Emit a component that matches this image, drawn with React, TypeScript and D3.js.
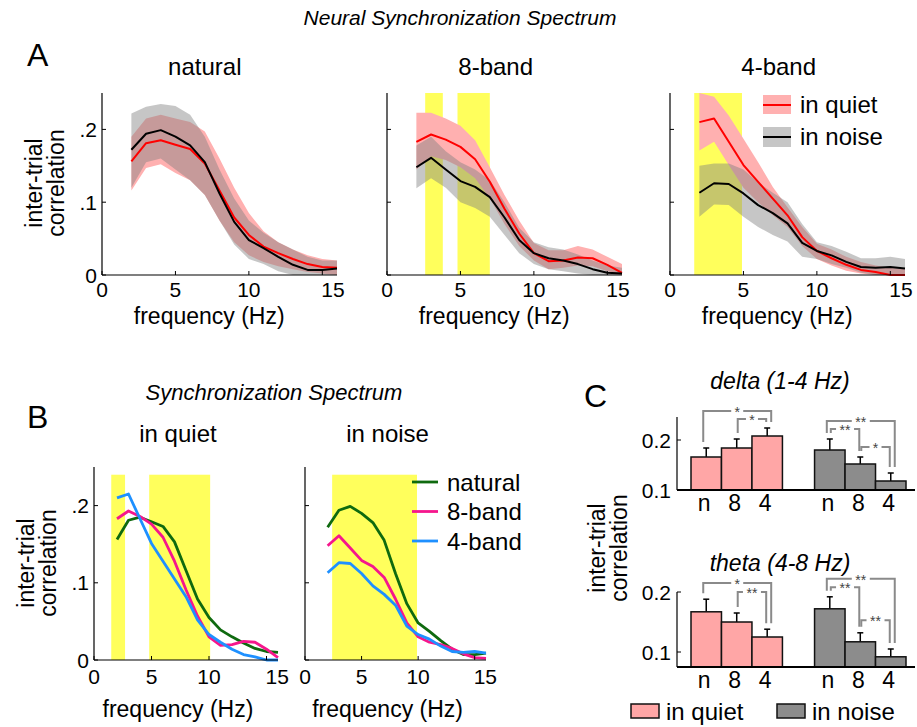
import React from 'react';
import * as d3 from 'd3';

const FONT = '"Liberation Sans", Arial, Helvetica, sans-serif';

// frequency bins (Hz)
const freqs = [2, 3, 4, 5, 6, 7, 8, 9, 10, 11, 12, 13, 14, 15, 16];

// inter-trial correlation, mean and shaded range, per stimulus / condition
const naturalQuiet = [0.156, 0.181, 0.185, 0.179, 0.173, 0.153, 0.116, 0.079, 0.055, 0.039, 0.030, 0.022, 0.015, 0.011, 0.010];
const naturalQuietHi = [0.190, 0.215, 0.220, 0.215, 0.210, 0.197, 0.160, 0.120, 0.085, 0.060, 0.045, 0.035, 0.027, 0.022, 0.020];
const naturalQuietLo = [0.116, 0.147, 0.152, 0.140, 0.130, 0.110, 0.075, 0.045, 0.027, 0.018, 0.012, 0.008, 0.004, 0.002, 0.000];
const naturalNoise = [0.172, 0.194, 0.199, 0.190, 0.178, 0.155, 0.112, 0.073, 0.048, 0.037, 0.025, 0.014, 0.007, 0.007, 0.009];
const naturalNoiseHi = [0.222, 0.231, 0.235, 0.232, 0.220, 0.190, 0.145, 0.105, 0.075, 0.058, 0.045, 0.035, 0.025, 0.020, 0.020];
const naturalNoiseLo = [0.120, 0.155, 0.160, 0.145, 0.130, 0.110, 0.075, 0.042, 0.022, 0.015, 0.005, 0.000, 0.000, 0.000, 0.000];

const band8Quiet = [0.183, 0.193, 0.186, 0.176, 0.159, 0.128, 0.091, 0.057, 0.030, 0.019, 0.020, 0.024, 0.023, 0.014, 0.003];
const band8QuietHi = [0.223, 0.223, 0.215, 0.205, 0.185, 0.148, 0.110, 0.075, 0.044, 0.034, 0.034, 0.040, 0.035, 0.025, 0.015];
const band8QuietLo = [0.145, 0.163, 0.158, 0.148, 0.133, 0.105, 0.070, 0.040, 0.020, 0.008, 0.010, 0.013, 0.012, 0.005, 0.000];
const band8Noise = [0.148, 0.161, 0.145, 0.129, 0.121, 0.107, 0.079, 0.048, 0.030, 0.023, 0.020, 0.015, 0.008, 0.003, 0.002];
const band8NoiseHi = [0.178, 0.190, 0.170, 0.155, 0.145, 0.130, 0.100, 0.065, 0.045, 0.038, 0.035, 0.028, 0.020, 0.013, 0.010];
const band8NoiseLo = [0.119, 0.133, 0.120, 0.100, 0.092, 0.080, 0.055, 0.030, 0.015, 0.008, 0.005, 0.002, 0.000, 0.000, 0.000];

const band4Quiet = [0.210, 0.215, 0.183, 0.151, 0.128, 0.105, 0.082, 0.052, 0.033, 0.023, 0.014, 0.007, 0.004, 0.000, 0.000];
const band4QuietHi = [0.250, 0.245, 0.219, 0.187, 0.155, 0.121, 0.093, 0.066, 0.043, 0.035, 0.025, 0.018, 0.013, 0.010, 0.008];
const band4QuietLo = [0.171, 0.183, 0.151, 0.120, 0.100, 0.082, 0.066, 0.040, 0.022, 0.013, 0.006, 0.002, 0.000, 0.000, 0.000];
const band4Noise = [0.113, 0.126, 0.125, 0.112, 0.096, 0.085, 0.071, 0.044, 0.033, 0.027, 0.018, 0.011, 0.010, 0.011, 0.009];
const band4NoiseHi = [0.150, 0.153, 0.153, 0.145, 0.127, 0.113, 0.100, 0.070, 0.045, 0.040, 0.032, 0.023, 0.023, 0.025, 0.022];
const band4NoiseLo = [0.080, 0.097, 0.096, 0.080, 0.066, 0.055, 0.046, 0.025, 0.022, 0.015, 0.010, 0.003, 0.000, 0.000, 0.000];

// significant frequency ranges (Hz)
const yellowNatural: number[][] = [];
const yellow8 = [[2.6, 3.8], [4.8, 7.0]];
const yellow4 = [[1.65, 4.9]];
const yellowQuiet = [[1.5, 2.7], [4.8, 10.1]];
const yellowNoise = [[2.4, 9.9]];

const xTicks = [0, 5, 10, 15];
const yTicks = [0, 0.1, 0.2];
const yTickLabels = ['0', '.1', '.2'];

// panel C
const barCats = ['n', '8', '4'];
const deltaQuiet = [0.166, 0.184, 0.208];
const deltaQuietErr = [0.018, 0.018, 0.016];
const deltaNoise = [0.180, 0.152, 0.118];
const deltaNoiseErr = [0.022, 0.014, 0.016];
const thetaQuiet = [0.167, 0.150, 0.125];
const thetaQuietErr = [0.021, 0.015, 0.013];
const thetaNoise = [0.172, 0.117, 0.092];
const thetaNoiseErr = [0.020, 0.015, 0.013];

const deltaSig = [
  { group: 0, a: 0, b: 2, level: 0.258, label: '*' },
  { group: 0, a: 1, b: 2, level: 0.242, label: '*' },
  { group: 1, a: 0, b: 2, level: 0.238, label: '**' },
  { group: 1, a: 0, b: 1, level: 0.222, label: '**' },
  { group: 1, a: 1, b: 2, level: 0.186, label: '*' },
];
const thetaSig = [
  { group: 0, a: 0, b: 2, level: 0.215, label: '*' },
  { group: 0, a: 1, b: 2, level: 0.200, label: '**' },
  { group: 1, a: 0, b: 2, level: 0.222, label: '**' },
  { group: 1, a: 0, b: 1, level: 0.208, label: '**' },
  { group: 1, a: 1, b: 2, level: 0.153, label: '**' },
];

const RED = '#ff0000';
const RED_BAND = '#ffb0b0';
const GRAY_BAND = 'rgba(128,128,128,0.45)';
const GREEN = '#0f6a0f';
const PINK = '#f5168c';
const BLUE = '#1e90ff';
const YELLOW = '#ffff5c';
const BAR_PINK = '#ffa6a6';
const BAR_GRAY = '#8c8c8c';
const SIG_GRAY = '#8a8a8a';

type Band = { lo: number[]; hi: number[]; fill: string };
type Line = { values: number[]; color: string };

function SpectrumPanel(props: {
  left: number; top: number; bottom: number; width: number;
  yellow: number[][]; yellowTop: number; bands: Band[]; lines: Line[];
  title: string; titleX: number; titleY: number; showYLabels: boolean; lineWidth: number;
  tickY: number; labelY: number;
}) {
  const { left, top, bottom, width, yellow, yellowTop, bands, lines, title, titleX, titleY, showYLabels, lineWidth, tickY, labelY } = props;
  const x = d3.scaleLinear().domain([0, 16]).range([left, left + width]);
  const y = d3.scaleLinear().domain([0, 0.25]).range([bottom, top]);
  const area = d3.area<number>().x((_, i) => x(freqs[i]));
  const line = d3.line<number>().x((_, i) => x(freqs[i])).y(d => y(d));
  return (
    <g>
      {yellow.map((s, i) => (
        <rect key={i} x={x(s[0])} y={y(yellowTop)} width={x(s[1]) - x(s[0])} height={y(0) - y(yellowTop)} fill={YELLOW} />
      ))}
      {bands.map((b, i) => (
        <path key={i} d={area.y0((_, j) => y(b.lo[j])).y1(d => y(d))(b.hi) || ''} fill={b.fill} />
      ))}
      {lines.map((l, i) => (
        <path key={i} d={line(l.values) || ''} fill="none" stroke={l.color} strokeWidth={lineWidth} strokeLinejoin="round" />
      ))}
      <line x1={x(0)} x2={x(0)} y1={y(0)} y2={y(0.25)} stroke="#000" strokeWidth={1.2} />
      <line x1={x(0)} x2={x(16)} y1={y(0)} y2={y(0)} stroke="#000" strokeWidth={1.2} />
      {yTicks.map((t, i) => (
        <g key={t}>
          <line x1={x(0)} x2={x(0) + 4} y1={y(t)} y2={y(t)} stroke="#000" />
          {showYLabels && (
            <text x={x(0) - 5} y={y(t)} dy="0.36em" textAnchor="end" fontSize={21}>{yTickLabels[i]}</text>
          )}
        </g>
      ))}
      {xTicks.map((t, i) => (
        <g key={t}>
          <line x1={x(t)} x2={x(t)} y1={y(0)} y2={y(0) - 4} stroke="#000" />
          <text x={i === xTicks.length - 1 ? x(t) - 1 : x(t)} y={tickY} textAnchor={i === xTicks.length - 1 ? 'start' : 'middle'} fontSize={21}>{t}</text>
        </g>
      ))}
      <text x={x(7.3)} y={labelY} textAnchor="middle" fontSize={23}>frequency (Hz)</text>
      <text x={x(titleX)} y={titleY} textAnchor="middle" fontSize={24}>{title}</text>
    </g>
  );
}

function YLabel({ x, y }: { x: number; y: number }) {
  return (
    <text transform={`translate(${x},${y}) rotate(-90)`} textAnchor="middle" fontSize={23}>
      <tspan x={0} dy={0}>inter-trial</tspan>
      <tspan x={0} dy={22}>correlation</tspan>
    </text>
  );
}

function BarPanel(props: {
  axisLeft: number; axisRight: number; bottom: number; top: number; yMin: number; yTop: number;
  quiet: number[]; quietErr: number[]; noise: number[]; noiseErr: number[];
  sig: { group: number; a: number; b: number; level: number; label: string }[];
  title: string; titleY: number;
}) {
  const { axisLeft, axisRight, bottom, top, yMin, yTop, quiet, quietErr, noise, noiseErr, sig, title, titleY } = props;
  const y = d3.scaleLinear().domain([yMin, yTop]).range([bottom, top]);
  const groupX = d3.scaleBand<number>().domain([0, 1]).range([axisLeft + 14, axisRight - 9]).paddingInner(0.26);
  const barX = d3.scaleBand<string>().domain(barCats).range([0, groupX.bandwidth()]);
  const groups = [
    { vals: quiet, errs: quietErr, fill: BAR_PINK },
    { vals: noise, errs: noiseErr, fill: BAR_GRAY },
  ];
  const cx = (g: number, i: number) => (groupX(g) || 0) + (barX(barCats[i]) || 0) + barX.bandwidth() / 2;
  return (
    <g>
      <text x={780} y={titleY} textAnchor="middle" fontSize={23} fontStyle="italic">{title}</text>
      {groups.map((g, gi) => g.vals.map((v, i) => (
        <g key={`${gi}-${i}`}>
          <line x1={cx(gi, i)} x2={cx(gi, i)} y1={y(v)} y2={y(v + g.errs[i])} stroke="#000" strokeWidth={1.5} />
          <line x1={cx(gi, i) - 3} x2={cx(gi, i) + 3} y1={y(v + g.errs[i])} y2={y(v + g.errs[i])} stroke="#000" strokeWidth={1.5} />
          <rect x={(groupX(gi) || 0) + (barX(barCats[i]) || 0)} y={y(v)} width={barX.bandwidth()} height={y(yMin) - y(v)}
            fill={g.fill} stroke="#111" strokeWidth={1.5} />
          <text x={cx(gi, i) - 2} y={bottom + 21} textAnchor="middle" fontSize={23}>{barCats[i]}</text>
        </g>
      )))}
      {sig.map((s, k) => {
        const g = groups[s.group];
        const span = s.b - s.a;
        const xl = cx(s.group, s.a) + (span === 2 ? -3 : 1);
        const xr = cx(s.group, s.b) + (span === 2 ? 4 : -1);
        const yl = y(g.vals[s.a] + g.errs[s.a]) - 6;
        const yr = y(g.vals[s.b] + g.errs[s.b]) - 6;
        const yt = y(s.level);
        const mid = (xl + xr) / 2;
        const tw = s.label.length * 6 + 6;
        return (
          <g key={k} stroke={SIG_GRAY} strokeWidth={2} fill="none">
            <path d={`M${xl},${yl}V${yt}H${xr}V${yr}`} />
            <rect x={mid - tw / 2} y={yt - 3} width={tw} height={6} fill="#fff" stroke="none" />
            <text x={mid} y={yt + 6} textAnchor="middle" fontSize={14} fill="#444" stroke="none">{s.label}</text>
          </g>
        );
      })}
      <line x1={axisLeft} x2={axisLeft} y1={bottom} y2={top} stroke="#000" strokeWidth={1.2} />
      <line x1={axisLeft} x2={axisRight} y1={bottom} y2={bottom} stroke="#000" strokeWidth={2} />
      {[0.1, 0.2].map(t => (
        <g key={t}>
          <line x1={axisLeft} x2={axisLeft + 4} y1={y(t)} y2={y(t)} stroke="#000" />
          <text x={axisLeft - 6} y={y(t)} dy="0.36em" textAnchor="end" fontSize={21}>{t.toFixed(1)}</text>
        </g>
      ))}
    </g>
  );
}

export default function App() {
  const aBands = (qLo: number[], qHi: number[], nLo: number[], nHi: number[]): Band[] => [
    { lo: qLo, hi: qHi, fill: RED_BAND },
    { lo: nLo, hi: nHi, fill: GRAY_BAND },
  ];
  const aLefts = [102, 387, 670];
  const aPanels = [
    { title: 'natural', tx: 7.0, yellow: yellowNatural, bands: aBands(naturalQuietLo, naturalQuietHi, naturalNoiseLo, naturalNoiseHi), q: naturalQuiet, n: naturalNoise },
    { title: '8-band', tx: 7.4, yellow: yellow8, bands: aBands(band8QuietLo, band8QuietHi, band8NoiseLo, band8NoiseHi), q: band8Quiet, n: band8Noise },
    { title: '4-band', tx: 7.4, yellow: yellow4, bands: aBands(band4QuietLo, band4QuietHi, band4NoiseLo, band4NoiseHi), q: band4Quiet, n: band4Noise },
  ];
  const bPanels = [
    { title: 'in quiet', left: 94, width: 184, yellow: yellowQuiet, lines: [naturalQuiet, band8Quiet, band4Quiet] },
    { title: 'in noise', left: 305, width: 181, yellow: yellowNoise, lines: [naturalNoise, band8Noise, band4Noise] },
  ];
  const bColors = [GREEN, PINK, BLUE];
  const bNames = ['natural', '8-band', '4-band'];
  return (
    <svg width={917} height={727} style={{ position: 'absolute', left: 0, top: 0, background: '#fff' }} fontFamily={FONT}>
      <text x={460} y={25} textAnchor="middle" fontSize={21} fontStyle="italic">Neural Synchronization Spectrum</text>
      <text x={27} y={66} fontSize={32}>A</text>
      <YLabel x={42} y={183} />
      {aPanels.map((p, i) => (
        <SpectrumPanel key={p.title} left={aLefts[i]} top={93} bottom={275} width={235}
          yellow={p.yellow} yellowTop={0.25} bands={p.bands}
          lines={[{ values: p.q, color: RED }, { values: p.n, color: '#000' }]}
          title={p.title} titleX={p.tx} titleY={75} showYLabels={i === 0} lineWidth={2} tickY={297} labelY={324} />
      ))}
      {/* legend A */}
      <rect x={763} y={95} width={28} height={19} fill={RED_BAND} />
      <line x1={763} x2={791} y1={105} y2={105} stroke={RED} strokeWidth={2} />
      <text x={800} y={113} fontSize={24}>in quiet</text>
      <rect x={763} y={127} width={28} height={20} fill={GRAY_BAND} />
      <line x1={763} x2={791} y1={137} y2={137} stroke="#000" strokeWidth={2} />
      <text x={800} y={145} fontSize={24}>in noise</text>

      <text x={27} y={428} fontSize={32}>B</text>
      <text x={274} y={400} textAnchor="middle" fontSize={22} fontStyle="italic">Synchronization Spectrum</text>
      <YLabel x={34} y={563} />
      {bPanels.map(p => (
        <SpectrumPanel key={p.title} left={p.left} top={467} bottom={660} width={p.width}
          yellow={p.yellow} yellowTop={0.24} bands={[]}
          lines={p.lines.map((v, i) => ({ values: v, color: bColors[i] }))}
          title={p.title} titleX={7.3} titleY={442} showYLabels={p.left < 200} lineWidth={2.8} tickY={684} labelY={717} />
      ))}
      {bNames.map((name, i) => (
        <g key={name}>
          <line x1={412} x2={438} y1={482 + i * 29.5} y2={482 + i * 29.5} stroke={bColors[i]} strokeWidth={2.8} />
          <text x={447} y={482 + i * 29.5} dy="0.36em" fontSize={24}>{name}</text>
        </g>
      ))}

      <text x={584} y={407} fontSize={32}>C</text>
      <YLabel x={605} y={548} />
      <BarPanel axisLeft={677} axisRight={915} bottom={490} top={417} yMin={0.1} yTop={0.246}
        quiet={deltaQuiet} quietErr={deltaQuietErr} noise={deltaNoise} noiseErr={deltaNoiseErr}
        sig={deltaSig} title="delta (1-4 Hz)" titleY={389} />
      <BarPanel axisLeft={677} axisRight={915} bottom={667} top={592} yMin={0.075} yTop={0.2}
        quiet={thetaQuiet} quietErr={thetaQuietErr} noise={thetaNoise} noiseErr={thetaNoiseErr}
        sig={thetaSig} title="theta (4-8 Hz)" titleY={571} />
      <rect x={631} y={704} width={28} height={14} fill={BAR_PINK} stroke="#111" strokeWidth={1.5} />
      <text x={666} y={720} fontSize={24}>in quiet</text>
      <rect x={777} y={704} width={28} height={14} fill={BAR_GRAY} stroke="#111" strokeWidth={1.5} />
      <text x={812} y={720} fontSize={24}>in noise</text>
    </svg>
  );
}
